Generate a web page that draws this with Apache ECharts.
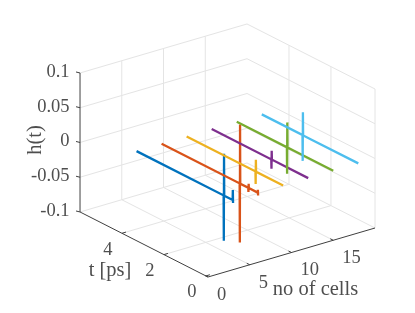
<!DOCTYPE html>
<html><head><meta charset="utf-8">
<style>html,body{margin:0;padding:0;background:#fff}#c{width:415px;height:313px}</style>
<script src="https://cdn.jsdelivr.net/npm/echarts@6/dist/echarts.min.js"></script>
</head><body><div id="c"></div>
<script>
const cellTicks=[0,5,10,15];
const timeTicks=[0,2,4];
const heightTicks=[-0.1,-0.05,0,0.05,0.1];
const heightLabels=['-0.1','-0.05','0','0.05','0.1'];
const cellLimit=20, timeLimit=6;
const cell1=[[4.5,0],[0.32,0],[0.33,0.06],[0.34,-0.065],[0.35,0],[-0.08,0],[-0.09,0.0145],[-0.1,-0.004]];
const cell2=[[4.5,0],[0.75,0],[0.76,0.085],[0.77,-0.085],[0.78,0],[0.34,0],[0.35,0.006],[0.36,-0.006],[0.37,0],[-0.08,0],[-0.09,0.004],[-0.1,-0.004]];
const cell3=[[4.5,0],[1.19,0],[1.2,0.017],[1.21,-0.018],[1.22,0],[-0.1,0]];
const cell4=[[4.5,0],[1.63,0],[1.64,0.0125],[1.65,-0.0135],[1.66,0],[-0.1,0]];
const cell5=[[4.5,0],[2.08,0],[2.09,0.036],[2.1,-0.038],[2.11,0],[1.68,0],[1.69,0.002],[1.7,-0.001],[-0.1,0]];
const cell6=[[4.5,0],[2.53,0],[2.54,0.033],[2.55,-0.037],[2.56,0],[2.15,0],[2.16,0.002],[2.17,-0.001],[-0.1,0]];
const cells=[3,6,9,12,15,18];
const traces=[cell1,cell2,cell3,cell4,cell5,cell6];
const colors=['#0072BD','#D95319','#EDB120','#7E2F8E','#77AC30','#4DBEEE'];

const P=(n,t,h)=>[208+8.35*n-20.98*(t+0.1), 277-2.45*n-10.66*(t+0.1)-(h+0.1)*695];
const ln=(pts,color,width,z)=>({type:'line',data:pts,showSymbol:false,symbol:'none',silent:true,animation:false,clip:false,z:z,lineStyle:{color,width,cap:'butt',join:'miter'}});
const series=[];
const grid='#e4e4e4', ax='#404040';
heightTicks.forEach(h=>{series.push(ln([P(0,timeLimit,h),P(cellLimit,timeLimit,h),P(cellLimit,-0.1,h)],grid,1,1));});
cellTicks.slice(1).forEach(n=>{
  series.push(ln([P(n,-0.1,-0.1),P(n,timeLimit,-0.1),P(n,timeLimit,0.1)],grid,1,1));
});
timeTicks.slice(1).forEach(t=>{
  series.push(ln([P(0,t,-0.1),P(cellLimit,t,-0.1),P(cellLimit,t,0.1)],grid,1,1));
});
series.push(ln([P(cellLimit,-0.1,-0.1),P(cellLimit,-0.1,0.1)],grid,1,1));
// axes
series.push(ln([P(0,timeLimit,0.1),P(0,timeLimit,-0.1),P(0,-0.1,-0.1),P(cellLimit,-0.1,-0.1)],ax,1,3));
heightTicks.forEach(h=>{const a=P(0,timeLimit,h);series.push(ln([a,[a[0]-4,a[1]-1]],ax,1,3));});
cellTicks.forEach(n=>{const a=P(n,-0.1,-0.1);series.push(ln([a,[a[0]-3,a[1]-1.5]],ax,1,3));});
timeTicks.forEach(t=>{const a=P(0,t,-0.1);series.push(ln([a,[a[0]+4,a[1]-1.2]],ax,1,3));});
traces.forEach((tr,i)=>{series.push(ln(tr.map(p=>P(cells[i],p[0],p[1])),colors[i],2.3,5+i));});
// text
const font='Liberation Serif';
const label=(pos,text,size,align,rotate)=>({type:'scatter',data:[pos],symbolSize:0,silent:true,animation:false,clip:false,z:10,
 label:{show:true,position:'inside',formatter:text,color:'#222',fontFamily:font,fontSize:size,rotate:rotate||0,align:align,verticalAlign:'middle'}});
heightTicks.forEach((h,i)=>{const a=P(0,timeLimit,h);series.push(label([a[0]-10.5,a[1]-1],heightLabels[i],18.5,'right'));});
cellTicks.forEach(n=>{const a=P(n,-0.1,-0.1);series.push(label([a[0]+9,a[1]+18],String(n),18.5,'left'));});
timeTicks.forEach(t=>{const a=P(0,t,-0.1);series.push(label([a[0]-14,a[1]+16.5],String(t),18.5,'center'));});
series.push(label([36,140],'h(t)',20.5,'center',90));
series.push(label([110,271],'t [ps]',20.5,'center'));
series.push(label([315.5,290],'no of cells',20.5,'center'));

const chart=echarts.init(document.getElementById('c'),null,{renderer:'canvas'});
chart.setOption({animation:false,backgroundColor:'#fff',
 grid:{left:0,right:0,top:0,bottom:0},
 xAxis:{type:'value',min:0,max:415,show:false},
 yAxis:{type:'value',min:0,max:313,inverse:true,show:false},
 series});
</script></body></html>
